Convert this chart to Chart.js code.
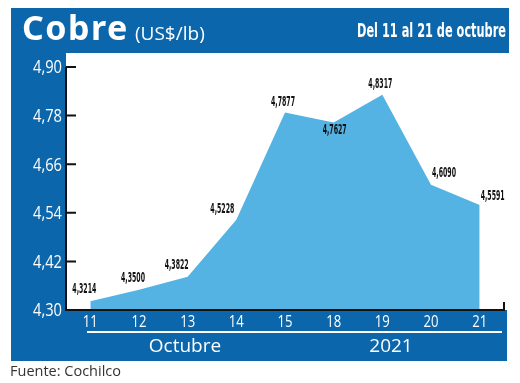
<!DOCTYPE html>
<html>
<head>
<meta charset="utf-8">
<script src="https://cdn.jsdelivr.net/npm/chart.js@4/dist/chart.umd.min.js"></script>
<style>
  html, body { margin: 0; padding: 0; background: #fff; }
  #wrap { width: 520px; height: 383px; position: relative; }
</style>
</head>
<body>
<div id="wrap"><canvas id="grafico"></canvas></div>
<script>
// Datos: precio del cobre, 11 al 21 de octubre 2021
const dias = ["11", "12", "13", "14", "15", "18", "19", "20", "21"];
const precios = [4.3214, 4.3500, 4.3822, 4.5228, 4.7877, 4.7627, 4.8317, 4.6090, 4.5591];
const ticksY = [4.30, 4.42, 4.54, 4.66, 4.78, 4.90];
const periodo = ["Octubre", "2021"];

const AZUL = "#0b66ac";
const CELESTE = "#55b3e4";
const angosta = "'Liberation Sans Narrow', 'DejaVu Sans Condensed', 'Open Sans', sans-serif";

const coma = (v, d) => v.toFixed(d).replace(".", ",");

// desplazamiento de cada etiqueta respecto a su punto
const offsets = [[-6, -12], [-6, -11], [-11, -11], [-14, -10], [-2, -10], [1, 8], [-2, -10], [13, -11], [13, -9]];

// Marco azul, titulos y fuente
const marco = {
  id: "marco",
  beforeDraw(chart) {
    const ctx = chart.ctx;
    ctx.save();
    ctx.fillStyle = "#fff";
    ctx.fillRect(0, 0, chart.width, chart.height);
    ctx.fillStyle = AZUL;
    ctx.fillRect(11, 8, 498, 45);
    ctx.fillRect(11, 53, 55, 260);
    ctx.fillRect(11, 310, 496, 51);

    ctx.fillStyle = "#fff";
    ctx.textBaseline = "alphabetic";
    ctx.font = "bold 34px 'Noto Sans', sans-serif";
    ctx.letterSpacing = "1.5px";
    ctx.fillText("Cobre", 22, 40);
    ctx.letterSpacing = "0px";
    ctx.font = "19px 'Open Sans', sans-serif";
    ctx.fillText("(US$/lb)", 135, 40);
    ctx.font = "bold 19px " + angosta;
    ctx.textAlign = "right";
    ctx.fillText("Del 11 al 21 de octubre", 506, 37, 149);

    // linea blanca y periodo
    ctx.fillRect(87, 331, 415, 2);
    ctx.textAlign = "center";
    ctx.textBaseline = "middle";
    ctx.font = "19px 'Open Sans', sans-serif";
    ctx.fillText(periodo[0], 185, 347);
    ctx.fillText(periodo[1], 391, 347);

    ctx.fillStyle = "#333";
    ctx.textAlign = "left";
    ctx.font = "14.5px 'Open Sans', sans-serif";
    ctx.fillText("Fuente: Cochilco", 10, 372);
    ctx.restore();
  },
  afterDatasetsDraw(chart) {
    const ctx = chart.ctx;
    const a = chart.chartArea;
    const y = chart.scales.y;
    const x = chart.scales.x;
    ctx.save();
    ctx.strokeStyle = "#111";
    ctx.lineWidth = 2;
    ctx.beginPath();
    ctx.moveTo(a.left, y.getPixelForValue(4.90));
    ctx.lineTo(a.left, a.bottom);
    ctx.lineTo(a.right, a.bottom);
    ctx.lineTo(a.right, a.bottom - 8);
    y.ticks.forEach(t => {
      const py = y.getPixelForValue(t.value);
      ctx.moveTo(a.left, py);
      ctx.lineTo(a.left + 10, py);
    });
    ctx.stroke();

    // etiquetas de los ejes (texto angosto)
    ctx.fillStyle = "#fff";
    ctx.textBaseline = "middle";
    ctx.textAlign = "right";
    ctx.font = "19px 'Open Sans', sans-serif";
    y.ticks.forEach(t => {
      ctx.fillText(coma(t.value, 2), a.left - 4, y.getPixelForValue(t.value) + 1, 29);
    });
    ctx.textAlign = "center";
    ctx.font = "17px 'Open Sans', sans-serif";
    dias.forEach((d, i) => {
      ctx.fillText(d, x.getPixelForValue(i), a.bottom + 12, 15);
    });

    // etiquetas de valores
    ctx.fillStyle = "#111";
    ctx.font = "bold 14px " + angosta;
    precios.forEach((v, i) => {
      const px = x.getPixelForValue(i) + offsets[i][0];
      const py = y.getPixelForValue(v) + offsets[i][1];
      ctx.fillText(coma(v, 4), px, py, 24);
    });
    ctx.restore();
  }
};

new Chart("grafico", {
  type: "line",
  data: {
    labels: dias,
    datasets: [{
      data: precios,
      fill: "start",
      backgroundColor: CELESTE,
      borderWidth: 0,
      pointRadius: 0,
      tension: 0
    }]
  },
  options: {
    responsive: true,
    maintainAspectRatio: false,
    animation: false,
    layout: { padding: { left: 12, right: 16, top: 67, bottom: 33 } },
    plugins: { legend: { display: false }, tooltip: { enabled: false } },
    scales: {
      x: {
        offset: true,
        grid: { display: false, drawTicks: false },
        border: { display: false },
        ticks: { display: false },
        afterFit: s => { s.height = 40; }
      },
      y: {
        min: 4.30,
        max: 4.90,
        afterBuildTicks: s => { s.ticks = ticksY.map(v => ({ value: v })); },
        grid: { display: false, drawTicks: false },
        border: { display: false },
        ticks: { display: false },
        afterFit: s => { s.width = 54; }
      }
    }
  },
  plugins: [marco]
});
</script>
</body>
</html>
